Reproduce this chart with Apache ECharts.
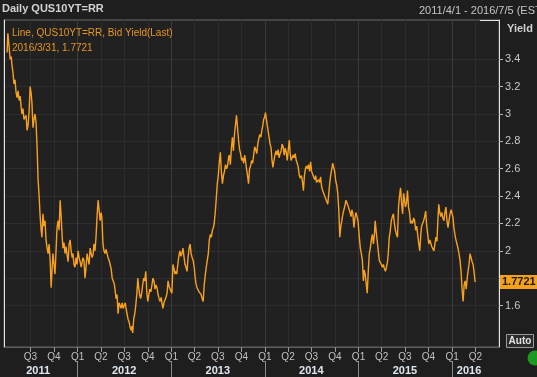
<!DOCTYPE html>
<html>
<head>
<meta charset="utf-8">
<style>
  html, body { margin: 0; padding: 0; background: #1e1e1e; }
  #chart { width: 537px; height: 377px; }
</style>
<script src="https://cdn.jsdelivr.net/npm/echarts@6.0.0/dist/echarts.min.js"></script>
</head>
<body>
<div id="chart"></div>
<script>
// daily 10y bid yield (roughly every 4 days)
const dates = [
  '2011-04-01','2011-04-04','2011-04-06','2011-04-09','2011-04-13','2011-04-17','2011-04-20','2011-04-24','2011-04-28',
  '2011-05-02','2011-05-06','2011-05-10','2011-05-14','2011-05-18','2011-05-22','2011-05-26','2011-05-29',
  '2011-06-02','2011-06-06','2011-06-10','2011-06-14','2011-06-18','2011-06-22','2011-06-26','2011-06-30',
  '2011-07-04','2011-07-07','2011-07-11','2011-07-15','2011-07-19','2011-07-23','2011-07-27','2011-07-31',
  '2011-08-04','2011-08-08','2011-08-12','2011-08-15','2011-08-19','2011-08-23','2011-08-27','2011-08-31',
  '2011-09-04','2011-09-08','2011-09-12','2011-09-16','2011-09-20','2011-09-23','2011-09-27',
  '2011-10-01','2011-10-05','2011-10-09','2011-10-13','2011-10-17','2011-10-21','2011-10-25','2011-10-29',
  '2011-11-02','2011-11-05','2011-11-09','2011-11-13','2011-11-17','2011-11-21','2011-11-25','2011-11-29',
  '2011-12-03','2011-12-07','2011-12-11','2011-12-14','2011-12-18','2011-12-22','2011-12-26','2011-12-30',
  '2012-01-03','2012-01-07','2012-01-11','2012-01-15','2012-01-18','2012-01-22','2012-01-26','2012-01-30',
  '2012-02-03','2012-02-07','2012-02-11','2012-02-15','2012-02-19','2012-02-23','2012-02-27',
  '2012-03-02','2012-03-05','2012-03-09','2012-03-13','2012-03-17','2012-03-21','2012-03-25','2012-03-29',
  '2012-04-02','2012-04-05','2012-04-09','2012-04-13','2012-04-17','2012-04-21','2012-04-25','2012-04-29',
  '2012-05-03','2012-05-07','2012-05-11','2012-05-15','2012-05-19','2012-05-23','2012-05-26','2012-05-30',
  '2012-06-03','2012-06-07','2012-06-11','2012-06-15','2012-06-19','2012-06-23','2012-06-27',
  '2012-07-01','2012-07-05','2012-07-08','2012-07-12','2012-07-16','2012-07-20','2012-07-24','2012-07-28','2012-07-31',
  '2012-08-03','2012-08-07','2012-08-11','2012-08-15','2012-08-19','2012-08-23','2012-08-26','2012-08-30',
  '2012-09-03','2012-09-07','2012-09-11','2012-09-15','2012-09-19','2012-09-23','2012-09-27',
  '2012-10-01','2012-10-05','2012-10-09','2012-10-13','2012-10-17','2012-10-21','2012-10-25','2012-10-29',
  '2012-11-02','2012-11-06','2012-11-10','2012-11-14','2012-11-18','2012-11-22','2012-11-25','2012-11-29',
  '2012-12-03','2012-12-07','2012-12-11','2012-12-15','2012-12-19','2012-12-23','2012-12-27',
  '2013-01-03','2013-01-07','2013-01-11','2013-01-15','2013-01-19','2013-01-22','2013-01-26','2013-01-30',
  '2013-02-03','2013-02-07','2013-02-11','2013-02-15','2013-02-19','2013-02-23','2013-02-27',
  '2013-03-03','2013-03-07','2013-03-11','2013-03-15','2013-03-19','2013-03-23','2013-03-27','2013-03-31',
  '2013-04-04','2013-04-07','2013-04-11','2013-04-15','2013-04-19','2013-04-23','2013-04-27',
  '2013-05-01','2013-05-05','2013-05-09','2013-05-13','2013-05-17','2013-05-21','2013-05-25','2013-05-29',
  '2013-06-02','2013-06-06','2013-06-10','2013-06-14','2013-06-17','2013-06-21','2013-06-25','2013-06-29',
  '2013-07-03','2013-07-07','2013-07-11','2013-07-15','2013-07-19','2013-07-23','2013-07-27','2013-07-31',
  '2013-08-04','2013-08-08','2013-08-12','2013-08-15','2013-08-19','2013-08-23','2013-08-27','2013-08-31',
  '2013-09-04','2013-09-08','2013-09-12','2013-09-16','2013-09-20','2013-09-24','2013-09-28',
  '2013-10-02','2013-10-06','2013-10-10','2013-10-14','2013-10-17','2013-10-21','2013-10-25','2013-10-29',
  '2013-11-02','2013-11-06','2013-11-10','2013-11-14','2013-11-18','2013-11-22','2013-11-26','2013-11-30',
  '2013-12-04','2013-12-08','2013-12-12','2013-12-16','2013-12-20','2013-12-24','2013-12-27','2013-12-31',
  '2014-01-03','2014-01-09','2014-01-13','2014-01-17','2014-01-21','2014-01-25','2014-01-28',
  '2014-02-01','2014-02-05','2014-02-09','2014-02-13','2014-02-17','2014-02-21','2014-02-25',
  '2014-03-01','2014-03-05','2014-03-09','2014-03-13','2014-03-17','2014-03-21','2014-03-25','2014-03-29',
  '2014-04-02','2014-04-06','2014-04-09','2014-04-13','2014-04-17','2014-04-21','2014-04-25','2014-04-29',
  '2014-05-03','2014-05-07','2014-05-11','2014-05-15','2014-05-19','2014-05-23','2014-05-27','2014-05-31',
  '2014-06-04','2014-06-08','2014-06-12','2014-06-16','2014-06-20','2014-06-24','2014-06-28',
  '2014-07-02','2014-07-06','2014-07-10','2014-07-14','2014-07-18','2014-07-21','2014-07-25','2014-07-29',
  '2014-08-02','2014-08-06','2014-08-10','2014-08-14','2014-08-18','2014-08-22','2014-08-26','2014-08-30',
  '2014-09-03','2014-09-07','2014-09-11','2014-09-15','2014-09-19','2014-09-22','2014-09-26','2014-09-30',
  '2014-10-04','2014-10-08','2014-10-12','2014-10-16','2014-10-20','2014-10-24','2014-10-28',
  '2014-11-01','2014-11-05','2014-11-09','2014-11-13','2014-11-17','2014-11-21','2014-11-25','2014-11-29',
  '2014-12-03','2014-12-06','2014-12-10','2014-12-14','2014-12-18','2014-12-22','2014-12-26','2014-12-30',
  '2015-01-01','2015-01-04','2015-01-08','2015-01-12','2015-01-16','2015-01-20','2015-01-23','2015-01-27','2015-01-31',
  '2015-02-04','2015-02-08','2015-02-12','2015-02-16','2015-02-20','2015-02-24','2015-02-28',
  '2015-03-04','2015-03-07','2015-03-11','2015-03-15','2015-03-19','2015-03-23','2015-03-27','2015-03-31',
  '2015-04-04','2015-04-08','2015-04-12','2015-04-16','2015-04-20','2015-04-24','2015-04-27',
  '2015-05-01','2015-05-05','2015-05-09','2015-05-13','2015-05-17','2015-05-21','2015-05-25','2015-05-29',
  '2015-06-02','2015-06-06','2015-06-10','2015-06-14','2015-06-18','2015-06-22','2015-06-26','2015-06-29',
  '2015-07-03','2015-07-07','2015-07-11','2015-07-15','2015-07-19','2015-07-23','2015-07-27','2015-07-31',
  '2015-08-04','2015-08-08','2015-08-12','2015-08-16','2015-08-20','2015-08-24','2015-08-28',
  '2015-09-01','2015-09-04','2015-09-08','2015-09-12','2015-09-16','2015-09-20','2015-09-24','2015-09-28',
  '2015-10-02','2015-10-06','2015-10-10','2015-10-14','2015-10-18','2015-10-22','2015-10-26','2015-10-30',
  '2015-11-03','2015-11-06','2015-11-10','2015-11-14','2015-11-18','2015-11-22','2015-11-26','2015-11-30',
  '2015-12-04','2015-12-08','2015-12-12','2015-12-16','2015-12-20','2015-12-24','2015-12-28','2015-12-31',
  '2016-01-04','2016-01-08','2016-01-12','2016-01-16','2016-01-20','2016-01-24','2016-01-28',
  '2016-02-01','2016-02-05','2016-02-09','2016-02-13','2016-02-17','2016-02-21','2016-02-25','2016-02-29',
  '2016-03-03','2016-03-07','2016-03-11','2016-03-15','2016-03-19','2016-03-23','2016-03-27','2016-03-31'
]
const yields = [
  3.45, 3.59, 3.55, 3.49, 3.40, 3.42, 3.36, 3.30, 3.22,
  3.25, 3.16, 3.12, 3.17, 3.10, 3.13, 3.05, 3.00,
  3.04, 2.96, 2.95, 2.99, 2.88, 2.92, 3.02, 3.20,
  3.15, 3.08, 2.90, 2.96, 3.00, 2.94, 2.76, 2.52,
  2.40, 2.25, 2.15, 2.10, 2.27, 2.18, 2.22, 2.08,
  2.02, 1.98, 2.05, 1.93, 1.73, 1.85, 1.98,
  1.90, 1.83, 2.00, 2.17, 2.22, 2.15, 2.37, 2.25,
  2.10, 2.02, 2.06, 1.98, 2.03, 1.97, 1.92, 2.05,
  2.08, 2.00, 1.95, 1.98, 1.90, 1.88, 1.95, 1.90,
  2.00, 1.95, 1.92, 1.88, 1.87, 1.95, 1.93, 1.80,
  1.88, 1.98, 1.94, 1.90, 2.02, 1.98, 1.95,
  1.98, 2.05, 2.00, 2.10, 2.25, 2.37, 2.30, 2.22,
  2.28, 2.24, 2.05, 2.00, 1.98, 2.01, 1.98, 1.95,
  1.93, 1.90, 1.87, 1.80, 1.78, 1.76, 1.72, 1.65,
  1.68, 1.54, 1.62, 1.63, 1.58, 1.62, 1.58,
  1.60, 1.62, 1.58, 1.54, 1.50, 1.48, 1.44, 1.42, 1.45,
  1.40, 1.50, 1.54, 1.60, 1.68, 1.80, 1.74, 1.68,
  1.65, 1.69, 1.75, 1.80, 1.78, 1.85, 1.70,
  1.63, 1.68, 1.72, 1.70, 1.75, 1.80, 1.78, 1.72,
  1.75, 1.73, 1.68, 1.65, 1.63, 1.66, 1.62, 1.58,
  1.62, 1.61, 1.66, 1.69, 1.78, 1.74, 1.72,
  1.69, 1.90, 1.87, 1.83, 1.85, 1.83, 1.90, 1.96,
  2.00, 1.96, 1.98, 2.02, 1.96, 1.90, 1.88,
  1.85, 1.95, 2.02, 2.05, 1.98, 1.95, 1.93, 1.88,
  1.80, 1.76, 1.73, 1.72, 1.70, 1.69, 1.68,
  1.65, 1.63, 1.75, 1.82, 1.88, 1.93, 1.98, 2.08,
  2.12, 2.10, 2.15, 2.17, 2.20, 2.28, 2.38, 2.49,
  2.55, 2.65, 2.72, 2.58, 2.49, 2.55, 2.58, 2.63,
  2.60, 2.62, 2.68, 2.70, 2.63, 2.75, 2.83, 2.73,
  2.85, 2.92, 2.99, 2.90, 2.81, 2.74, 2.71,
  2.66, 2.68, 2.64, 2.70, 2.66, 2.60, 2.55, 2.49,
  2.60, 2.62, 2.66, 2.64, 2.70, 2.76, 2.74, 2.71,
  2.78, 2.82, 2.85, 2.83, 2.88, 2.92, 2.96, 2.98,
  3.01, 2.93, 2.88, 2.83, 2.78, 2.75, 2.67,
  2.61, 2.66, 2.70, 2.73, 2.70, 2.74, 2.68,
  2.71, 2.73, 2.78, 2.76, 2.70, 2.75, 2.72, 2.66,
  2.74, 2.81, 2.72, 2.66, 2.66, 2.70, 2.68, 2.71,
  2.66, 2.64, 2.61, 2.55, 2.53, 2.55, 2.51, 2.44,
  2.55, 2.60, 2.62, 2.60, 2.63, 2.58, 2.65,
  2.58, 2.56, 2.54, 2.52, 2.55, 2.50, 2.49, 2.52,
  2.50, 2.54, 2.47, 2.44, 2.42, 2.40, 2.38, 2.36,
  2.34, 2.42, 2.50, 2.56, 2.60, 2.64, 2.63, 2.58,
  2.51, 2.48, 2.42, 2.30, 2.10, 2.18, 2.22,
  2.27, 2.30, 2.33, 2.37, 2.35, 2.33, 2.32, 2.28,
  2.25, 2.30, 2.27, 2.17, 2.24, 2.28, 2.25, 2.22,
  2.17, 2.10, 2.02, 1.98, 1.93, 1.78, 1.86, 1.83, 1.76,
  1.69, 1.85, 1.98, 2.02, 2.08, 2.12, 2.05,
  2.12, 2.22, 2.14, 2.07, 2.00, 1.93, 1.92, 1.90,
  1.88, 1.90, 1.87, 1.85, 1.88, 1.92, 1.98,
  2.10, 2.15, 2.22, 2.25, 2.27, 2.20, 2.15, 2.12,
  2.10, 2.32, 2.40, 2.46, 2.35, 2.27, 2.42, 2.38,
  2.32, 2.35, 2.44, 2.32, 2.28, 2.20, 2.22, 2.20,
  2.24, 2.22, 2.15, 2.18, 2.17, 2.05, 2.00,
  2.12, 2.18, 2.20, 2.22, 2.25, 2.29, 2.18, 2.12,
  2.05, 2.08, 2.07, 2.03, 2.02, 2.00, 2.05, 2.10,
  2.07, 2.20, 2.34, 2.28, 2.25, 2.28, 2.24, 2.22,
  2.28, 2.32, 2.22, 2.17, 2.22, 2.27, 2.30, 2.29,
  2.25, 2.17, 2.12, 2.08, 2.05, 2.02, 1.98,
  1.93, 1.85, 1.72, 1.63, 1.75, 1.78, 1.72, 1.80,
  1.85, 1.90, 1.98, 1.95, 1.92, 1.90, 1.84, 1.7721
]

const quarterTicks = [
  '2011-07-01','2011-10-01','2012-01-01','2012-04-01','2012-07-01','2012-10-01',
  '2013-01-01','2013-04-01','2013-07-01','2013-10-01','2014-01-01','2014-04-01',
  '2014-07-01','2014-10-01','2015-01-01','2015-04-01','2015-07-01','2015-10-01',
  '2016-01-01','2016-04-01'
]
const yearTicks = ['2012-01-01', '2013-01-01', '2014-01-01', '2015-01-01', '2016-01-01']
const yearLabelDates = ['2011-07-31', '2012-07-01', '2013-07-01', '2014-07-01', '2015-07-01', '2016-03-07']
const yieldTicks = [1.6, 1.8, 2, 2.2, 2.4, 2.6, 2.8, 3, 3.2, 3.4]
const yieldLabels = [1.6, 2, 2.2, 2.4, 2.6, 2.8, 3, 3.2, 3.4] // 1.8 sits under the last-value badge
const lastDate = '2016/3/31'
const lastValue = 1.7721

const FONT = "'Liberation Sans', Arial, sans-serif"
// x is a linear day scale (ms timestamps) so custom quarter/year ticks can be used
const toTime = d => new Date(d + 'T00:00:00').getTime()
const xMin = toTime('2011-03-20')
const xMax = toTime('2016-07-02')
const yMin = 1.297
const yMax = 3.687

const chart = echarts.init(document.getElementById('chart'))

const option = {
  backgroundColor: '#1e1e1e',
  animation: false,
  textStyle: { fontFamily: FONT },
  title: [
    {
      text: 'Daily QUS10YT=RR',
      left: 2,
      top: 3,
      padding: 0,
      textStyle: { color: '#d2d2d2', fontSize: 11, fontWeight: 'bold', fontFamily: FONT }
    },
    {
      text: '2011/4/1 - 2016/7/5 (EST)',
      left: 419,
      top: 5,
      padding: 0,
      textStyle: { color: '#c4c4c4', fontSize: 11, fontWeight: 'normal', fontFamily: FONT }
    },
    {
      text: 'Line, QUS10YT=RR, Bid Yield(Last)\n' + lastDate + ', ' + lastValue,
      left: 12,
      top: 26,
      padding: 0,
      textStyle: { color: '#e8961e', fontSize: 10, lineHeight: 15, fontWeight: 'normal', fontFamily: FONT }
    }
  ],
  grid: {
    left: 4,
    right: 38,
    top: 20,
    bottom: 30,
    show: true,
    backgroundColor: '#212121',
    borderColor: '#6a6a6a',
    borderWidth: 1,
    outerBoundsMode: 'none'
  },
  xAxis: [
    {
      type: 'value',
      min: xMin,
      max: xMax,
      position: 'bottom',
      axisLine: { show: true, onZero: false, lineStyle: { color: '#5c5c5c' } },
      axisTick: { show: true, customValues: quarterTicks.map(toTime), length: 5, lineStyle: { color: '#9a9a9a' } },
      axisLabel: {
        customValues: quarterTicks.map(toTime),
        color: '#c2c2c2',
        fontSize: 10,
        margin: 5,
        fontFamily: FONT,
        formatter: function(val) {
          return 'Q' + (Math.floor(new Date(val).getMonth() / 3) + 1)
        }
      },
      splitLine: {
        show: true,
        // Q3, Q4, Q1 (year start, brighter), Q2 ...
        lineStyle: { color: ['#2d2d2d', '#2d2d2d', '#3b3b3b', '#2d2d2d'], width: 1 }
      }
    },
    {
      type: 'value',
      min: xMin,
      max: xMax,
      position: 'bottom',
      offset: 14,
      axisLine: { show: false, onZero: false },
      axisTick: { show: true, customValues: yearTicks.map(toTime), length: 16, lineStyle: { color: '#8a8a8a' } },
      axisLabel: {
        customValues: yearLabelDates.map(toTime),
        color: '#dde6ef',
        fontSize: 11,
        fontWeight: 'bold',
        margin: 4,
        fontFamily: FONT,
        formatter: function(val) {
          return String(new Date(val).getFullYear())
        }
      },
      splitLine: { show: false }
    }
  ],
  yAxis: [
    {
      type: 'value',
      position: 'right',
      min: yMin,
      max: yMax,
      name: 'Yield',
      nameLocation: 'end',
      nameGap: -9,
      nameTextStyle: { color: '#cfcfcf', fontWeight: 'bold', fontSize: 11, align: 'left', padding: [0, 0, 0, 8], verticalAlign: 'middle', fontFamily: FONT },
      axisLine: { show: true, onZero: false, lineStyle: { color: '#e4e4e4' } },
      axisTick: { show: true, customValues: yieldTicks, length: 4, lineStyle: { color: '#b8b8b8' } },
      axisLabel: {
        customValues: yieldLabels,
        color: '#c8c8c8',
        fontSize: 11,
        margin: 6,
        fontFamily: FONT,
        formatter: function(v) {
          return String(+(+v).toFixed(1))
        }
      },
      splitLine: { show: true, lineStyle: { color: '#2d2d2d', width: 1 } }
    },
    {
      type: 'value',
      position: 'left',
      min: yMin,
      max: yMax,
      axisLine: { show: true, onZero: false, lineStyle: { color: '#e4e4e4' } },
      axisTick: { show: false },
      axisLabel: { show: false },
      splitLine: { show: false }
    }
  ],
  series: [
    {
      name: 'QUS10YT=RR',
      type: 'line',
      xAxisIndex: 0,
      yAxisIndex: 0,
      showSymbol: false,
      symbol: 'none',
      data: dates.map((d, i) => [toTime(d), yields[i]]),
      lineStyle: { color: '#f9a11b', width: 1.4 },
      markLine: {
        silent: true,
        symbol: 'none',
        precision: 4,
        lineStyle: { color: 'rgba(0,0,0,0)', width: 0 },
        label: {
          show: true,
          position: 'end',
          distance: 1,
          opacity: 1,
          formatter: function() {
            return lastValue.toFixed(4)
          },
          color: '#1a1a1a',
          backgroundColor: '#f5a11c',
          fontWeight: 'bold',
          fontSize: 11,
          fontFamily: FONT,
          padding: [2, 2, 1, 2]
        },
        data: [{ yAxis: lastValue }]
      }
    }
  ],
  graphic: [
    // white corner accents of the frame
    { type: 'line', shape: { x1: 480, y1: 20.5, x2: 499, y2: 20.5 }, style: { stroke: '#e4e4e4', lineWidth: 1 } },
    { type: 'line', shape: { x1: 4, y1: 347.5, x2: 24, y2: 347.5 }, style: { stroke: '#e4e4e4', lineWidth: 1 } },
    { type: 'line', shape: { x1: 480, y1: 347.5, x2: 499, y2: 347.5 }, style: { stroke: '#e4e4e4', lineWidth: 1 } },
    // "Auto" button
    {
      type: 'group',
      left: 506,
      top: 334,
      children: [
        { type: 'rect', shape: { x: 0, y: 0, width: 27, height: 13 }, style: { fill: '#2b2b2b', stroke: '#9a9a9a', lineWidth: 1 } },
        { type: 'text', style: { x: 13.5, y: 7, text: 'Auto', fill: '#e2e2e2', font: 'bold 10px ' + FONT, textAlign: 'center', textVerticalAlign: 'middle' } }
      ]
    },
    { type: 'circle', shape: { cx: 535, cy: 358, r: 7.5 }, style: { fill: '#1b9a22' } }
  ]
}

chart.setOption(option)
</script>
</body>
</html>
